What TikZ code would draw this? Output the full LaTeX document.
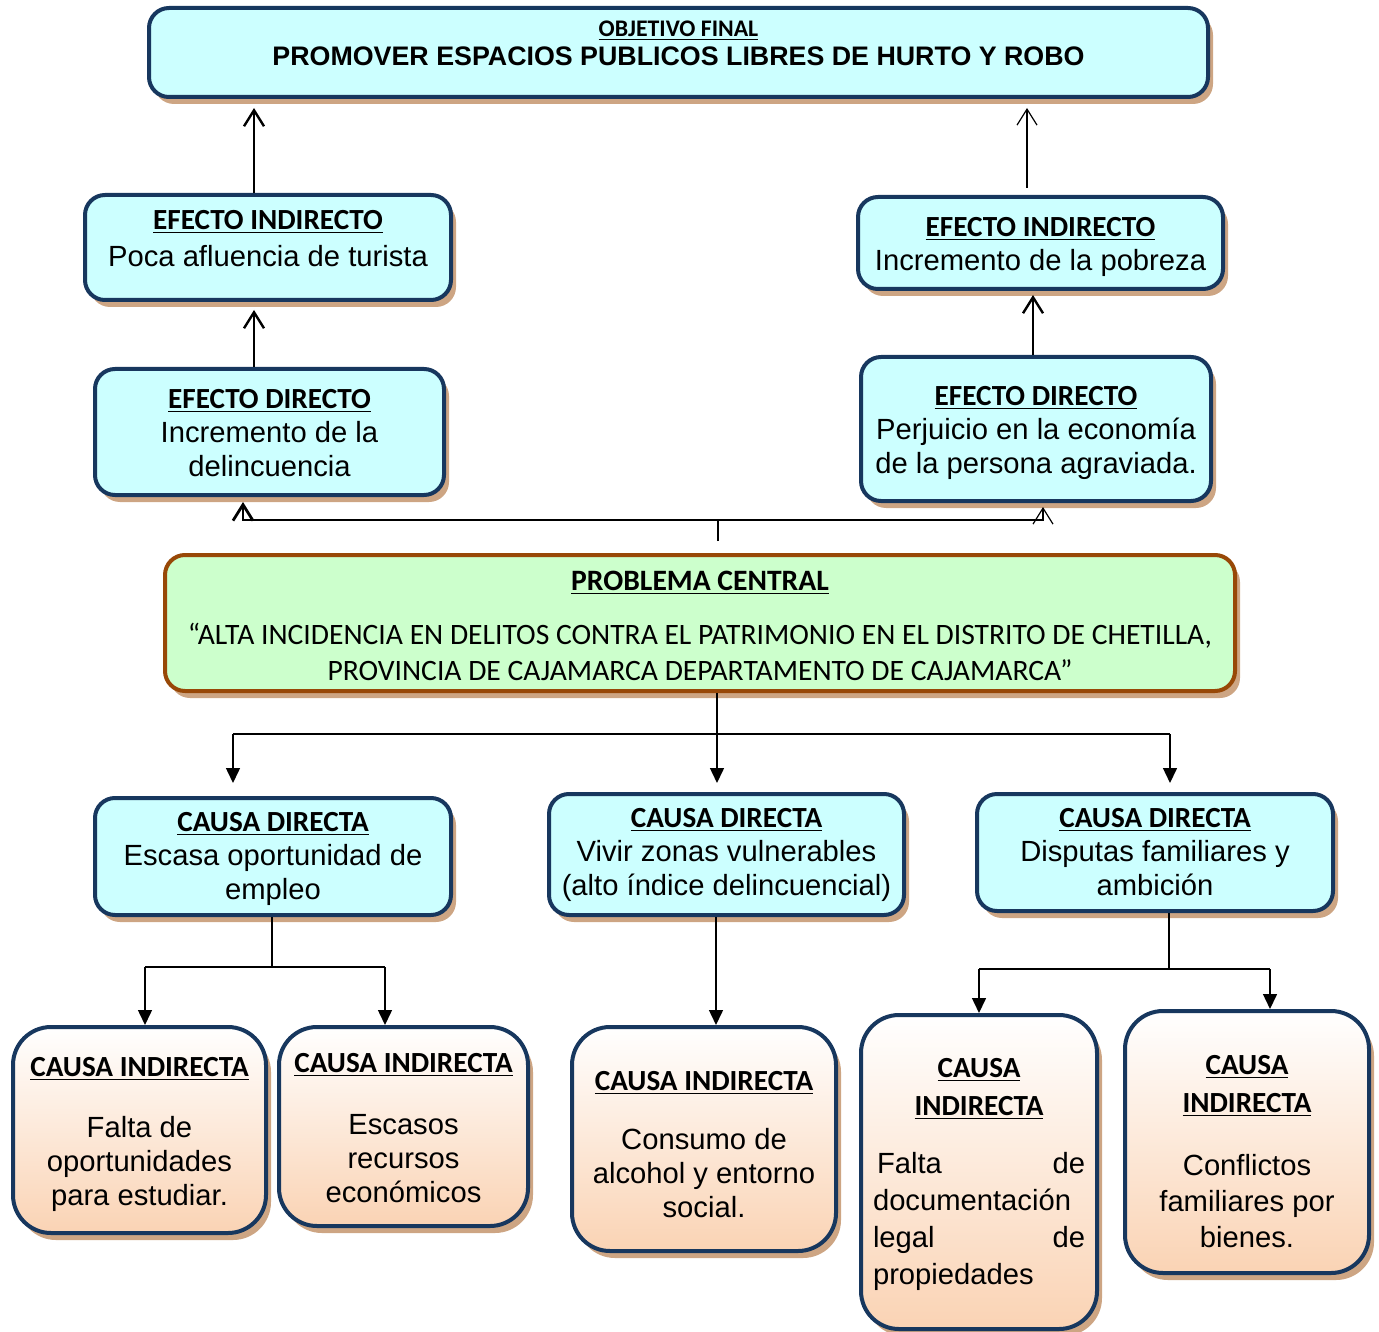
\documentclass[tikz,border=0pt]{standalone}
\usepackage{fontspec}
\setmainfont{Liberation Sans}
\newfontfamily\calfont{Carlito}
\usetikzlibrary{arrows.meta}
\usetikzlibrary{shadows}
\definecolor{navy}{HTML}{17375E}
\definecolor{cyanbox}{HTML}{CCFFFF}
\definecolor{greenbox}{HTML}{CCFFCC}
\definecolor{brownline}{HTML}{984807}
\definecolor{tanshadow}{HTML}{CDA583}
\definecolor{peach}{HTML}{FAD3B4}
\newcommand\hd[1]{{\calfont\bfseries\underline{#1}}}

\begin{document}
\begin{tikzpicture}[x=0.5pt,y=-0.5pt,%
    shade/.style={drop shadow={shadow xshift=2.5pt,shadow yshift=-3.5pt,fill=tanshadow,opacity=1}},%
    wh/.style 2 args={minimum width=#1,text width=#1,minimum height=#2},%
    txtat/.style={text height=0pt,text depth=#1},%
    box/.style={shade,draw=navy,line width=2pt,fill=cyanbox,rounded corners=10pt,inner sep=0pt,align=flush center,font=\fontsize{14.6}{17}\selectfont},%
    causebox/.style={box,rounded corners=19pt,top color=white,bottom color=peach},%
    probbox/.style={box,draw=brownline,fill=greenbox,font=\calfont\fontsize{14.8}{18}\selectfont},%
    upar/.style={line width=1.2pt,-{Straight Barb[length=8pt,width=10pt]}},%
    uthin/.style={line width=0.6pt,-{Straight Barb[length=8pt,width=10pt]}},%
    ln/.style={line width=0.75pt},%
    dnar/.style={ln,-{Triangle[length=7.5pt,width=7pt]}}]%
    \useasboundingbox (0,0) rectangle (1379,1331);%
    \node[box,wh={529.5pt}{44.5pt},txtat=15.8pt] (obj) at (678.5,52.5)%
        {{\calfont\bfseries\fontsize{11.9}{14}\selectfont\underline{OBJETIVO FINAL}}\\[-2.5pt]%
        {\bfseries\fontsize{13.4}{17}\selectfont PROMOVER ESPACIOS PUBLICOS LIBRES DE HURTO Y ROBO}};%
    \node[box,wh={183pt}{52.5pt},txtat=18.1pt] (ei1) at (268,247.5)%
        {\hd{EFECTO INDIRECTO}\\[1.5pt]Poca afluencia de turista};%
    \node[box,wh={182.5pt}{46pt},txtat=6.6pt] (ei2) at (1040.5,243)%
        {\hd{EFECTO INDIRECTO}\\Incremento de la pobreza};%
    \node[box,wh={174.5pt}{63pt},txtat=23.6pt] (ed1) at (269.5,432)%
        {\hd{EFECTO DIRECTO}\\Incremento de la\\delincuencia};%
    \node[box,wh={175pt}{72pt},txtat=23.6pt] (ed2) at (1036,429)%
        {\hd{EFECTO DIRECTO}\\Perjuicio en la economía\\de la persona agraviada.};%
    \node[probbox,wh={535pt}{68pt},txtat=32.6pt] (pc) at (700,623)%
        {{\bfseries\underline{PROBLEMA CENTRAL}}\\[9pt]%
        “ALTA INCIDENCIA EN DELITOS CONTRA EL PATRIMONIO EN EL DISTRITO DE CHETILLA,\\%
        PROVINCIA DE CAJAMARCA DEPARTAMENTO DE CAJAMARCA”};%
    \node[box,wh={178pt}{58.5pt},txtat=25.1pt] (cd1) at (273,856.5)%
        {\hd{CAUSA DIRECTA}\\Escasa oportunidad de\\empleo};%
    \node[box,wh={177.5pt}{60.5pt},txtat=27.1pt] (cd2) at (726.5,854.5)%
        {\hd{CAUSA DIRECTA}\\Vivir zonas vulnerables\\(alto índice delincuencial)};%
    \node[box,wh={178pt}{58.5pt},txtat=25.1pt] (cd3) at (1155,852.5)%
        {\hd{CAUSA DIRECTA}\\Disputas familiares y\\ambición};%
    \node[causebox,wh={126.5pt}{103pt},txtat=53.6pt] (ci1) at (139.5,1130)%
        {\hd{CAUSA INDIRECTA}\\[13.5pt]Falta de\\oportunidades\\para estudiar.};%
    \node[causebox,wh={124.5pt}{99.5pt},txtat=54.1pt] (ci2) at (403.5,1126.5)%
        {\hd{CAUSA INDIRECTA}\\[14pt]Escasos\\recursos\\económicos};%
    \node[causebox,wh={132pt}{112pt},txtat=48.6pt] (ci3) at (704,1139)%
        {\hd{CAUSA INDIRECTA}\\[12.5pt]Consumo de\\alcohol y entorno\\social.};%
    \node[causebox,wh={118pt}{157pt},text width=106pt,txtat=94.6pt] (ci4) at (979,1172)%
        {\hd{CAUSA}\\[2pt]\hd{INDIRECTA}\\[12pt]%
        \hspace*{2pt}Falta\hfill de\\[1.5pt]documentación\hfill\mbox{}\\[1.5pt]%
        legal\hfill de\\[1.5pt]propiedades\hfill\mbox{}};%
    \node[causebox,wh={122pt}{131pt},txtat=67.6pt] (ci5) at (1247,1142)%
        {\hd{CAUSA}\\[2pt]\hd{INDIRECTA}\\[14.5pt]Conflictos\\[1pt]familiares por\\[1pt]bienes.};%
    \coordinate (xa) at (254,0);%
    \coordinate (xb) at (1027,0);%
    \coordinate (xc) at (1033,0);%
    \coordinate (xd) at (243,0);%
    \coordinate (xe) at (1043,0);%
    \coordinate (jn) at (718,520);%
    \coordinate (hb) at (717,734);%
    \coordinate (hl) at (233,734);%
    \coordinate (hr) at (1170,734);%
    \coordinate (s1) at (272,967);%
    \coordinate (s1l) at (145,967);%
    \coordinate (s1r) at (385,967);%
    \coordinate (s2) at (716,0);%
    \coordinate (s3) at (1169,969);%
    \coordinate (s3l) at (979,969);%
    \coordinate (s3r) at (1270,969);%
    \draw[upar,shorten >=4.5pt] (ei1.north -| xa) -- (obj.south -| xa);%
    \draw[upar,shorten >=4pt] (ed1.north -| xa) -- (ei1.south -| xa);%
    \draw[uthin,shorten <=3.5pt,shorten >=4.5pt] (ei2.north -| xb) -- (obj.south -| xb);%
    \draw[upar,shorten >=2pt] (ed2.north -| xc) -- (ei2.south -| xc);%
    \draw[upar,line width=1.4pt,shorten <=6pt,shorten >=2.5pt] (pc.north -| jn) -- (jn) -| (ed1.south -| xd);%
    \draw[uthin,shorten >=2pt] (jn) -| (ed2.south -| xe);%
    \draw[dnar,shorten >=4.5pt] (pc.south -| hb) -- (cd2.north -| hb);%
    \draw[ln] (hl) -- (hr);%
    \draw[dnar,shorten >=6.5pt] (hl) -- (cd1.north -| hl);%
    \draw[dnar,shorten >=4.5pt] (hr) -- (cd3.north -| hr);%
    \draw[ln] (cd1.south -| s1) -- (s1);%
    \draw[ln] (s1l) -- (s1r);%
    \draw[dnar] (s1l) -- (ci1.north -| s1l);%
    \draw[dnar] (s1r) -- (ci2.north -| s1r);%
    \draw[dnar] (cd2.south -| s2) -- (ci3.north -| s2);%
    \draw[ln] (cd3.south -| s3) -- (s3);%
    \draw[ln] (s3l) -- (s3r);%
    \draw[dnar] (s3l) -- (ci4.north -| s3l);%
    \draw[dnar] (s3r) -- (ci5.north -| s3r);%
\end{tikzpicture}
\end{document}
